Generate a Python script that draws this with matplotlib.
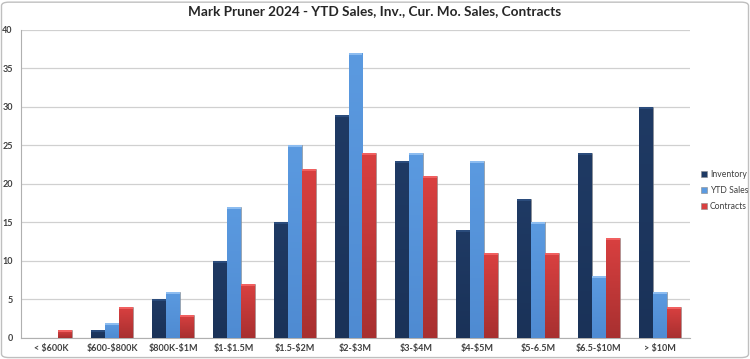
import matplotlib.pyplot as plt
import matplotlib.patches as mpatches
from matplotlib.colors import LinearSegmentedColormap
import numpy as np

categories = ["< $600K", "$600-$800K", "$800K-$1M", "$1-$1.5M", "$1.5-$2M", "$2-$3M",
              "$3-$4M", "$4-$5M", "$5-6.5M", "$6.5-$10M", "> $10M"]
inventory = [0, 1, 5, 10, 15, 29, 23, 14, 18, 24, 30]
ytd_sales = [0, 2, 6, 17, 25, 37, 24, 23, 15, 8, 6]
contracts = [1, 4, 3, 7, 22, 24, 21, 11, 11, 13, 4]

series = [("Inventory", inventory, "#1f3a64", "#1a3258", "#2b4c7c"),
          ("YTD Sales", ytd_sales, "#5b9ae0", "#4f8bd2", "#8cbcf0"),
          ("Contracts", contracts, "#d94040", "#a83030", "#f06060")]

plt.rcParams['font.family'] = ['Lato', 'DejaVu Sans']

fig = plt.figure(figsize=(7.5, 3.59), dpi=100)
ax = fig.add_axes([0.028, 0.0585, 0.892, 0.858])

x = np.arange(len(categories))
width = 0.23
offsets = [-width, 0, width]

handles = []
grad = np.linspace(0, 1, 64).reshape(-1, 1)
for (name, vals, top_col, bot_col, cap_col), off in zip(series, offsets):
    bars = ax.bar(x + off, vals, width, color=top_col, edgecolor="#8a8a8a",
                  linewidth=0.4, zorder=3)
    # vertical gradient inside each bar (lighter at top, darker at bottom)
    cmap = LinearSegmentedColormap.from_list(name, [bot_col, top_col])
    for b, v in zip(bars, vals):
        if v <= 0:
            continue
        im = ax.imshow(grad, cmap=cmap, aspect="auto", origin="lower",
                       extent=[b.get_x(), b.get_x() + b.get_width(), 0, v], zorder=3)
        im.set_clip_path(b)
        # light cap at the top of the bar
        ax.add_patch(mpatches.Rectangle((b.get_x(), v - 0.25), b.get_width(), 0.25,
                                        color=cap_col, zorder=4, linewidth=0))
    handles.append(mpatches.Patch(facecolor=top_col, edgecolor="#8a8a8a",
                                  linewidth=0.4, label=name))

ax.set_xlim(-0.5, len(categories) - 0.5)
ax.set_ylim(0, 40)
ax.set_yticks(range(0, 41, 5))
ax.set_xticks(x)
ax.set_xticklabels([c.replace("$", r"\$") for c in categories], fontsize=6.5,
                   fontweight="bold", color="#404040")
ax.tick_params(axis="y", labelsize=6.5, colors="#404040", length=0, pad=6)
ax.tick_params(axis="x", length=0, pad=4)
for lbl in ax.get_yticklabels():
    lbl.set_fontweight("bold")
ax.grid(axis="y", color="#d0d0d0", linewidth=0.9, zorder=0)
ax.set_axisbelow(True)
for side in ["top", "right"]:
    ax.spines[side].set_visible(False)
ax.spines["left"].set_color("#b0b0b0")
ax.spines["bottom"].set_color("#b0b0b0")

fig.suptitle("Mark Pruner 2024 - YTD Sales, Inv., Cur. Mo. Sales, Contracts",
             x=0.5, y=0.985, fontsize=9.8, fontweight="bold", color="#262626")

fig.legend(handles=handles, loc="center left", bbox_to_anchor=(0.935, 0.47),
           frameon=False, fontsize=6.2, handlelength=0.7, handleheight=0.7,
           handletextpad=0.3, labelspacing=0.8, borderpad=0, borderaxespad=0,
           labelcolor="#404040")

fig.add_artist(mpatches.FancyBboxPatch((0.002, 0.004), 0.996, 0.99,
                                       boxstyle="round,pad=0,rounding_size=0.01",
                                       transform=fig.transFigure, fill=False,
                                       edgecolor="#bfbfbf", linewidth=1))

fig.savefig("out.png", dpi=100)
